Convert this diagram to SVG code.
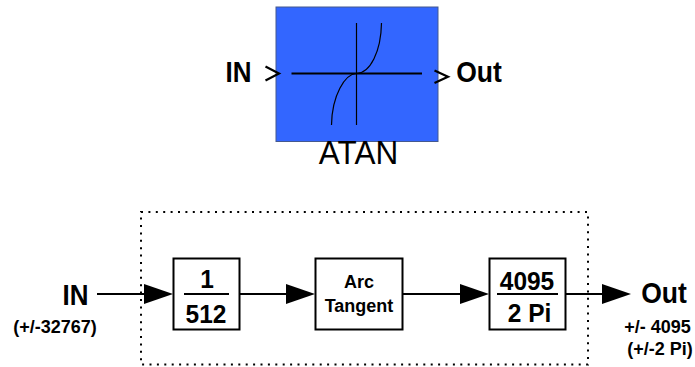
<svg xmlns="http://www.w3.org/2000/svg" width="695" height="367" viewBox="0 0 695 367">
<style>
text{font-family:"Liberation Sans",Arial,sans-serif;font-weight:bold;fill:#000;text-anchor:middle}
.box{fill:#fff;stroke:#000;stroke-width:2}
.w{stroke:#000;stroke-width:2;fill:none}
.t{stroke:#000;stroke-width:1.2;fill:none}
.h{fill:#000}
.c{fill:none;stroke:#000;stroke-width:2.200}
.big{font-size:26px}
.num{font-size:24.500px}
.sm{font-size:18px}
</style>
<rect width="695" height="367" fill="#fff"/>
<g id="atan-block">
<rect x="276" y="7" width="162" height="134.500" fill="#3366ff" stroke="#44598f" stroke-width="1"/>
<line x1="291.500" y1="73.500" x2="422" y2="73.500" class="w"/>
<line x1="356.500" y1="23" x2="356.500" y2="125" class="t"/>
<path d="M331.500 125C332 95 345 74 356.500 73.500C370 73 381 52 381.500 23" class="t"/>
<text transform="translate(358.500 164) scale(1 1.040)" style="font-size:31.500px;font-weight:normal">ATAN</text>
</g>
<g id="atan-in"><text class="big" transform="translate(238.500 82) scale(1 1.100)">IN</text><path d="M265.500 66.500L279 73.500L265.500 80.500" class="c"/></g>
<g id="atan-out"><text class="big" transform="translate(479 82) scale(1.020 1.100)">Out</text><path d="M434.500 70.500L448 76.700L434.500 83" class="c"/></g>
<g id="boundary"><rect x="141" y="212" width="447" height="152.500" fill="none" stroke="#000" stroke-width="2" stroke-dasharray="2 5.400"/></g>
<g id="connectors">
<line x1="97" y1="294" x2="146" y2="294" class="w"/><path d="M144 284L173 294L144 304Z" class="h"/>
<line x1="240" y1="294" x2="287" y2="294" class="w"/><path d="M286 284L315 294L286 304Z" class="h"/>
<line x1="403" y1="294" x2="461" y2="294" class="w"/><path d="M460 284L489 294L460 304Z" class="h"/>
<line x1="566" y1="294" x2="604" y2="294" class="w"/><path d="M602 284L631 294L602 304Z" class="h"/>
</g>
<g id="input"><text class="big" transform="translate(75.500 305) scale(1 1.100)">IN</text><text class="sm" transform="translate(55 333) scale(1 1.050)">(+/-32767)</text></g>
<g id="scale-in"><rect x="173.500" y="258.500" width="66" height="71" class="box"/><line x1="184" y1="294" x2="229" y2="294" class="w"/><text class="num" transform="translate(207 288) scale(1 1.080)">1</text><text class="num" transform="translate(206 323) scale(1 1.080)">512</text></g>
<g id="arc-tangent"><rect x="315.500" y="258.500" width="87" height="71" class="box"/><text class="sm" transform="translate(359 288) scale(1 1.050)">Arc</text><text class="sm" transform="translate(359 312) scale(1 1.050)">Tangent</text></g>
<g id="scale-out"><rect x="489.500" y="258.500" width="76" height="71" class="box"/><line x1="497" y1="294" x2="558" y2="294" class="w"/><text class="num" transform="translate(527 290) scale(1 1.080)">4095</text><text class="num" transform="translate(529.500 322) scale(1 1.080)">2 Pi</text></g>
<g id="output"><text class="big" transform="translate(664 303) scale(1.020 1.100)">Out</text><text class="sm" transform="translate(657.500 333) scale(1 1.050)">+/- 4095</text><text class="sm" transform="translate(660 355) scale(1 1.050)">(+/-2 Pi)</text></g>
</svg>
